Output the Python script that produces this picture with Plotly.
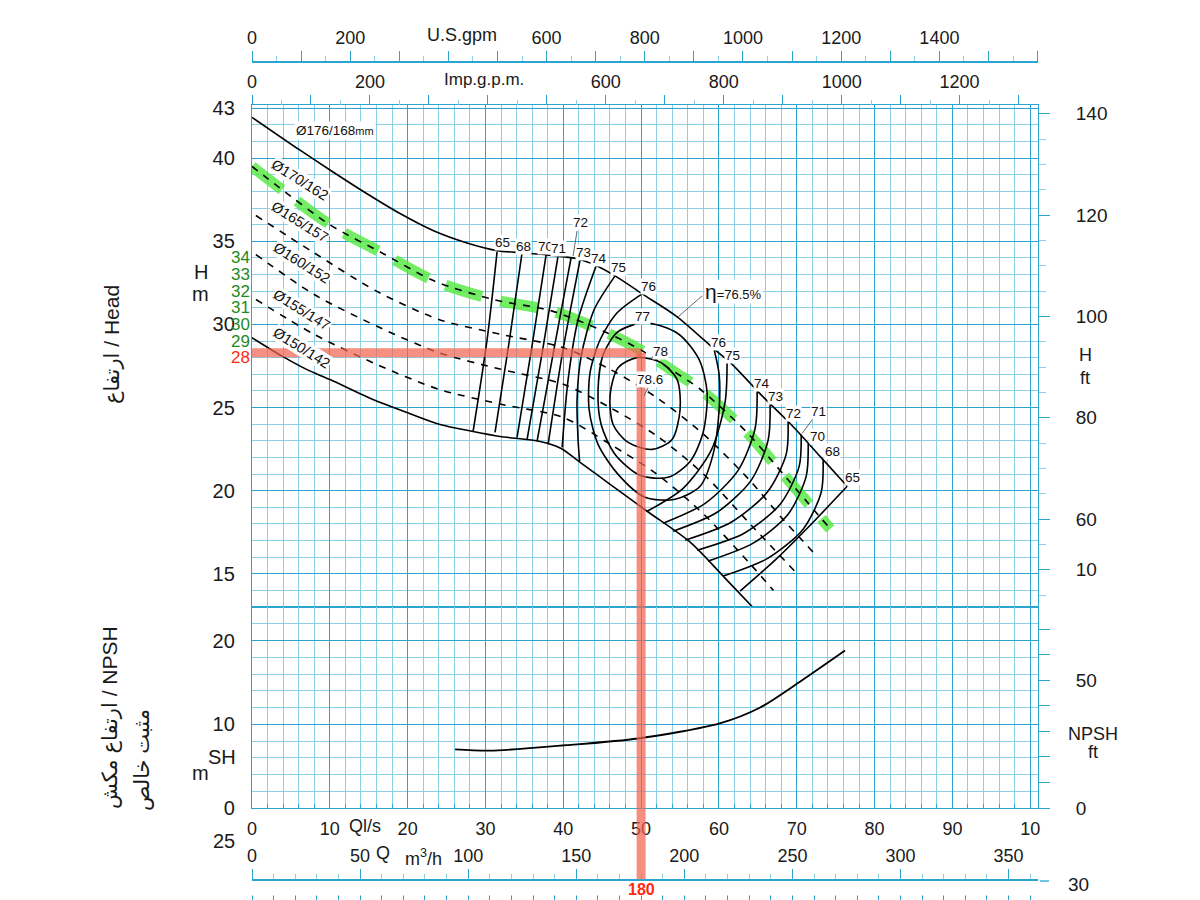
import plotly.graph_objects as go

# ---------------- values (Q in l/s, H in m) ----------------
q_d176 = [0, 6.17, 10.41, 14.78, 19.02, 23.26, 27.63, 31.49, 34.83, 37.9, 41.9, 44.34, 46.66, 50.13, 54.63, 59.77, 61.7, 65.55, 68.9, 70.82, 73.0, 76.48]
h_d176 = [42.46, 40.48, 39.17, 37.86, 36.67, 35.65, 34.9, 34.44, 34.3, 34.18, 33.94, 33.52, 32.92, 31.84, 30.46, 28.36, 27.6, 25.7, 24.16, 23.2, 22.06, 20.26]

q_d170 = [0, 3.6, 10, 16.7, 23.5, 31, 38.6, 45.6, 50, 54.1, 57.6, 63.6, 68.8, 74.3]
h_d170 = [39.5, 38.2, 36.0, 34.3, 32.6, 31.5, 30.8, 29.5, 28.45, 27.2, 26.1, 23.5, 20.7, 17.7]

q_d165 = [0.5, 8, 16, 24, 32, 40, 46, 52, 58, 64, 68, 72.1]
h_d165 = [36.55, 34.3, 32.0, 30.3, 29.4, 28.6, 27.3, 25.6, 23.4, 20.6, 18.4, 16.3]

q_d160 = [0.5, 8, 16, 24, 32, 40, 46, 52, 58, 64, 70.05]
h_d160 = [34.2, 31.8, 29.9, 28.3, 27.3, 26.4, 25.0, 23.3, 21.0, 18.0, 15.0]

q_d155 = [0.5, 8, 16, 24, 32, 40, 46, 52, 58, 64, 67.0]
h_d155 = [31.5, 29.4, 27.6, 26.1, 25.2, 24.4, 22.8, 21.0, 18.6, 15.6, 14.0]

q_d150 = [0, 3.98, 7.07, 10.03, 15.55, 19.92, 24.16, 28.41, 31.88, 37.02, 39.72, 42.16, 46.02, 50.77, 56.3, 60.54, 64.4]
h_d150 = [29.2, 28.06, 27.28, 26.68, 25.48, 24.7, 23.98, 23.56, 23.26, 22.96, 22.54, 21.7, 20.38, 18.76, 16.9, 14.86, 12.96]

# NPSH required (m)
q_npsh = [26.1, 30.6, 40.4, 49.6, 60.1, 65.3, 70.6, 76.2]
h_npsh = [7.0, 6.85, 7.5, 8.3, 10.1, 12.0, 15.2, 18.8]

# iso-efficiency lines, left side (top curve -> bottom curve)
eff65_l = ([31.49, 30.21, 28.41], [34.36, 29.08, 23.56])
eff68_l = ([34.70, 33.03, 31.23], [34.30, 28.90, 23.50])
eff70_l = ([37.79, 35.99, 34.06], [34.18, 28.72, 23.20])
eff71_l = ([39.33, 37.40, 35.35], [34.12, 28.60, 23.08])
eff72_l = ([41.00, 38.82, 36.63], [34.00, 28.54, 22.96])
eff73_l = ([42.16, 39.97, 38.05], [33.88, 28.48, 22.78])
eff74_l = ([44.22, 41.90, 40.62, 39.85], [33.52, 30.28, 26.68, 22.60])
eff75_l = ([46.66, 43.96, 42.29, 41.77, 41.90, 42.10], [32.92, 30.88, 28.06, 25.48, 23.08, 21.75])

# iso-efficiency lines, right side (bottom curve -> top curve)
eff75_r = ([50.77, 55.40, 59.00, 60.80, 61.05], [18.76, 20.14, 22.42, 25.36, 27.94])
eff74_r = ([52.83, 58.23, 62.47, 64.65, 64.91], [18.04, 19.24, 21.22, 23.74, 25.96])
eff73_r = ([54.11, 59.77, 64.14, 66.32, 66.58], [17.56, 18.70, 20.62, 23.02, 25.18])
eff72_r = ([55.66, 61.57, 66.20, 68.64, 68.89], [17.02, 18.10, 19.90, 22.18, 24.16])
eff71_r = ([57.20, 63.24, 67.87, 70.31, 70.57], [16.42, 17.44, 19.18, 21.46, 23.38])
eff70_r = ([58.61, 64.40, 68.89, 71.21, 71.47], [15.76, 16.84, 18.58, 20.86, 22.84])
eff68_r = ([60.54, 66.32, 70.82, 73.14, 73.39], [14.86, 15.94, 17.68, 19.90, 21.88])
eff65_r = ([62.72, 67.35, 71.98, 76.48], [13.96, 15.88, 18.04, 20.26])

# closed / U-shaped contours around the best efficiency point
eff76_u = ([50.13, 46.92, 44.73, 43.44, 43.32, 44.47, 47.04, 50.51, 54.37, 57.58, 59.25, 60.03, 60.03, 59.38],
           [31.84, 30.70, 29.08, 27.10, 24.88, 22.78, 20.98, 19.60, 19.48, 20.26, 22.18, 24.88, 26.98, 28.48])
eff77_loop = ([50.51, 47.04, 45.12, 44.47, 44.86, 46.66, 49.87, 53.47, 56.30, 57.97, 58.48, 57.46, 54.76, 50.51],
              [30.10, 29.56, 28.18, 26.08, 23.98, 22.18, 20.92, 20.80, 21.76, 23.50, 25.90, 27.88, 29.44, 30.10])
eff78_loop = ([49.49, 47.04, 46.02, 46.40, 48.33, 51.41, 53.98, 55.01, 54.63, 52.57, 49.49],
              [28.0, 27.40, 25.78, 23.98, 22.90, 22.48, 23.08, 24.88, 26.68, 27.70, 28.0])

# efficiency labels: (text, Q, H)
eff_labels = [("65", 32.13, 34.9), ("68", 34.83, 34.66), ("70", 37.66, 34.66), ("71", 39.33, 34.54),
              ("72", 42.16, 36.16), ("73", 42.54, 34.3), ("74", 44.6, 33.94), ("75", 47.04, 33.4),
              ("76", 50.9, 32.26), ("77", 50.13, 30.46), ("78", 52.44, 28.36), ("78.6", 51.16, 26.68),
              ("76", 59.9, 28.9), ("75", 61.7, 28.12), ("74", 65.55, 26.44), ("73", 67.22, 25.66),
              ("72", 69.54, 24.64), ("71", 72.75, 24.76), ("70", 72.62, 23.26), ("68", 74.55, 22.36),
              ("65", 77.12, 20.8)]
leaders = [((41.77, 35.62), (41.26, 34.12)), ((50.9, 26.2), (50.39, 25.72)),
           ((57.84, 31.72), (54.76, 30.46)), ((72.11, 24.34), (70.69, 23.44))]

dia_labels = [("Ø170/162", 6.17, 38.68), ("Ø165/157", 6.17, 36.16), ("Ø160/152", 6.43, 33.7),
              ("Ø155/147", 6.43, 30.88), ("Ø150/142", 6.43, 28.6)]

green_ticks = [34, 33, 32, 31, 30, 29]
op_q, op_h, op_m3h = 50, 28.3, 180

lps_ticks = list(range(0, 101, 10))
lps_text = ["0", "10", "20", "30", "40", "50", "60", "70", "80", "90", "10"]
usgpm_labels = [0, 200, 600, 800, 1000, 1200, 1400]
impgpm_labels = [0, 200, 600, 800, 1000, 1200]
m3h_labels = [0, 50, 100, 150, 200, 250, 300, 350]
hft_ticks = [50, 60, 80, 100, 120, 140]
hft_text = ["10", "60", "80", "100", "120", "140"]

LPS_USGPM, LPS_IMPGPM, LPS_M3H, M_FT = 15.850, 13.198, 3.6, 0.3048

# ---------------- layout helpers ----------------
W, H = 1200, 900
OFF = 8  # page body margin in the browser
GRID = "#2ba4d0"
GRID_MINOR = "#8ccfe7"
FONT = "Arial, Liberation Sans, DejaVu Sans, sans-serif"
XMAX = 101


def fx(px):
    return (px - OFF) / W


def fy(py):
    return 1 - (py - OFF) / H


fig = go.Figure()


def curve(q, h, xa="x", ya="y", color="black", width=1.5, dash=None, shape="spline"):
    fig.add_trace(go.Scatter(x=q, y=h, xaxis=xa, yaxis=ya, mode="lines",
                             line=dict(color=color, width=width, dash=dash, shape=shape, smoothing=0.8),
                             hoverinfo="skip", showlegend=False))


# green highlighted impeller curve
curve(q_d170, h_d170, color="rgba(85,232,65,0.82)", width=11, dash="38px,19px")
for q, h in [(q_d170, h_d170), (q_d165, h_d165), (q_d160, h_d160), (q_d155, h_d155)]:
    curve(q, h, dash="7px,7px", width=1.6)
curve(q_d176, h_d176, width=1.6)
curve(q_d150, h_d150, width=1.6)

for q, h in [eff65_l, eff68_l, eff70_l, eff71_l, eff72_l, eff73_l, eff74_l, eff75_l,
             eff75_r, eff74_r, eff73_r, eff72_r, eff71_r, eff70_r, eff68_r, eff65_r,
             eff76_u, eff77_loop, eff78_loop]:
    curve(q, h, width=1.6)

curve(q_npsh, h_npsh, xa="x2", ya="y2", width=1.8)

# invisible traces so the secondary scales get drawn
for xa, ya, xv, yv in [("x3", "y", 0, 20), ("x4", "y", 0, 20), ("x5", "y2", 0, 5),
                       ("x6", "y2", 0, 5), ("x", "y3", 0, 60), ("x2", "y4", 0, 10)]:
    fig.add_trace(go.Scatter(x=[xv], y=[yv], xaxis=xa, yaxis=ya, mode="markers",
                             marker=dict(opacity=0), hoverinfo="skip", showlegend=False))

main = dict(showgrid=True, gridcolor=GRID, gridwidth=1.3, zeroline=False, showline=True,
            linecolor=GRID, linewidth=1.3, mirror=True, automargin=False)


def sec_x(position, rng, step, minor_step, labels, over, ticklen=10, line=True, show=True):
    vals = list(range(0, int(rng) + 1, step))
    return dict(overlaying=over, anchor="free", position=position, side="top", range=[0, rng],
                tickvals=vals, ticktext=[str(v) if v in labels else " " for v in vals],
                ticks="outside", ticklen=ticklen, tickcolor=GRID, tickwidth=1.3,
                showticklabels=show, tickfont=dict(size=18, color="#1a1a1a"), automargin=False,
                showgrid=False, zeroline=False, showline=line, linecolor=GRID, linewidth=1.6,
                minor=dict(dtick=minor_step, ticks="outside", ticklen=5, tickcolor=GRID_MINOR, showgrid=False))


fig.update_layout(
    template="none",
    width=W, height=H, margin=dict(l=0, r=0, t=0, b=0, pad=0, autoexpand=False),
    paper_bgcolor="white", plot_bgcolor="white", showlegend=False,
    font=dict(family=FONT, color="#1a1a1a"),
    xaxis=dict(domain=[fx(252), fx(1038)], range=[0, XMAX], anchor="y", dtick=10, tick0=0,
               showticklabels=False, ticks="",
               minor=dict(dtick=2, showgrid=True, gridcolor=GRID_MINOR, gridwidth=1), **main),
    yaxis=dict(domain=[fy(607), fy(105)], range=[13, 43.2], anchor="x",
               tickvals=[15, 20, 25, 30, 35, 40, 43], ticks="", ticklabelstandoff=12,
               tickfont=dict(size=20),
               minor=dict(dtick=1, showgrid=True, gridcolor=GRID_MINOR, gridwidth=1), **main),
    xaxis2=dict(domain=[fx(252), fx(1038)], range=[0, XMAX], anchor="y2", matches="x",
                tickvals=lps_ticks, ticktext=lps_text, ticks="inside", ticklen=8, tickcolor=GRID,
                ticklabelstandoff=4, tickfont=dict(size=18),
                minor=dict(dtick=2, showgrid=True, gridcolor=GRID_MINOR, gridwidth=1,
                           ticks="inside", ticklen=4, tickcolor=GRID), **main),
    yaxis2=dict(domain=[fy(808), fy(607)], range=[0, 24], anchor="x2",
                tickvals=[0, 10, 20], ticks="", ticklabelstandoff=12, tickfont=dict(size=20),
                minor=dict(dtick=2, showgrid=True, gridcolor=GRID_MINOR, gridwidth=1), **main),
    xaxis3=sec_x(fy(62), XMAX * LPS_USGPM, 100, 50, usgpm_labels, "x"),
    xaxis4=sec_x(fy(105), XMAX * LPS_IMPGPM, 100, 50, impgpm_labels, "x", line=False),
    xaxis5=sec_x(fy(880), XMAX * LPS_M3H, 50, 10, m3h_labels, "x2"),
    xaxis6=sec_x(fy(900), XMAX * LPS_M3H, 10, 10, [], "x2", ticklen=4, line=False, show=False),
    yaxis3=dict(overlaying="y", anchor="free", position=fx(1038), side="right",
                range=[13 / M_FT, 43.2 / M_FT], tickvals=hft_ticks, ticktext=hft_text,
                ticks="outside", ticklen=11, tickcolor=GRID, tickwidth=1.3, ticklabelstandoff=22,
                tickfont=dict(size=19), showgrid=False, zeroline=False, showline=False, automargin=False,
                minor=dict(dtick=5, ticks="outside", ticklen=7, tickcolor=GRID_MINOR, showgrid=False)),
    yaxis4=dict(overlaying="y2", anchor="free", position=fx(1038), side="right",
                range=[0, 24 / M_FT], tickvals=list(range(0, 71, 10)),
                ticktext=["0", " ", " ", " ", " ", "50", " ", " "],
                ticks="outside", ticklen=11, tickcolor=GRID, tickwidth=1.3, ticklabelstandoff=22,
                tickfont=dict(size=19), showgrid=False, zeroline=False, showline=False, automargin=False),
)

# operating point guide lines (semi-transparent red)
RED = "rgba(240,100,80,0.72)"
fig.add_shape(type="line", xref="x", yref="y", x0=0, x1=op_q, y0=op_h, y1=op_h, line=dict(color=RED, width=9))
fig.add_shape(type="line", xref="x", yref="y", x0=op_q, x1=op_q, y0=op_h, y1=13, line=dict(color=RED, width=9))
fig.add_shape(type="line", xref="x2", yref="y2", x0=op_q, x1=op_q, y0=24, y1=0, line=dict(color=RED, width=9))
fig.add_shape(type="line", xref="x2", yref="paper", x0=op_q, x1=op_q, y0=fy(808), y1=fy(879), line=dict(color=RED, width=9))

for (a, b) in leaders:
    fig.add_shape(type="line", xref="x", yref="y", x0=a[0], y0=a[1], x1=b[0], y1=b[1],
                  line=dict(color="#555", width=0.9))

C = dict(xanchor="center", yanchor="middle", showarrow=False)
ann = []
for txt, q, h in eff_labels:
    ann.append(dict(x=q, y=h, xref="x", yref="y", text=txt,
                    font=dict(size=13.5, color="#111"), bgcolor="white", borderpad=0, **C))
ann.append(dict(x=61.9, y=31.96, xref="x", yref="y", bgcolor="white", borderpad=0,
                text="<span style='font-size:21px'>η</span>=76.5%", font=dict(size=13, color="#111"), **C))
ann.append(dict(x=10.67, y=41.68, xref="x", yref="y", bgcolor="white",
                text="Ø176/168<span style='font-size:11px'>mm</span>", font=dict(size=13.5, color="#111"), **C))
for txt, q, h in dia_labels:
    ann.append(dict(x=q, y=h, xref="x", yref="y", text=txt, textangle=32,
                    font=dict(size=14.5, color="#111"), bgcolor="white", borderpad=0, **C))
for v in green_ticks:
    ann.append(dict(x=fx(241), y=v, xref="paper", yref="y", text=str(v),
                    font=dict(size=17, color="#1e8a1e"), **C))
ann.append(dict(x=fx(240), y=28.0, xref="paper", yref="y", text="28",
                font=dict(size=17, color="#ff2a10"), **C))

paper_text = [
    ("U.S.gpm", 462, 35, 18, 0), ("Imp.g.p.m.", 484, 80, 17, 0),
    ("Ql/s", 365, 826, 18, 0), ("Q", 383, 853, 18, 0), ("m<sup>3</sup>/h", 423, 857, 18, 0),
    ("25", 224, 841, 20, 0), ("30", 1078, 884, 19, 0),
    ("H", 1085, 355, 18, 0), ("ft", 1085, 378, 18, 0),
    ("NPSH", 1093, 734, 18, 0), ("ft", 1093, 752, 18, 0),
    ("H", 201, 272, 20, 0), ("m", 200, 294, 20, 0),
    ("SH", 222, 757, 20, 0), ("m", 200, 773, 20, 0),
    ("ارتفاع / Head", 112, 345, 21, -90),
    ("ارتفاع مکش / NPSH", 110, 718, 21, -90),
    ("مثبت خالص", 142, 760, 21, -90),
]
for txt, px, py, size, ang in paper_text:
    ann.append(dict(x=fx(px), y=fy(py), xref="paper", yref="paper", text=txt,
                    textangle=ang, font=dict(size=size, color="#1a1a1a"), **C))
ann.append(dict(x=op_q, y=fy(889), xref="x2", yref="paper", text="<b>%d</b>" % op_m3h,
                font=dict(size=16, color="#ff2a10"), **C))
fig.update_layout(annotations=ann)

fig.add_shape(type="line", xref="paper", yref="paper", x0=fx(1040), x1=fx(1049), y0=fy(881), y1=fy(881),
              line=dict(color=GRID, width=1.3))

fig.write_html("out.html")
